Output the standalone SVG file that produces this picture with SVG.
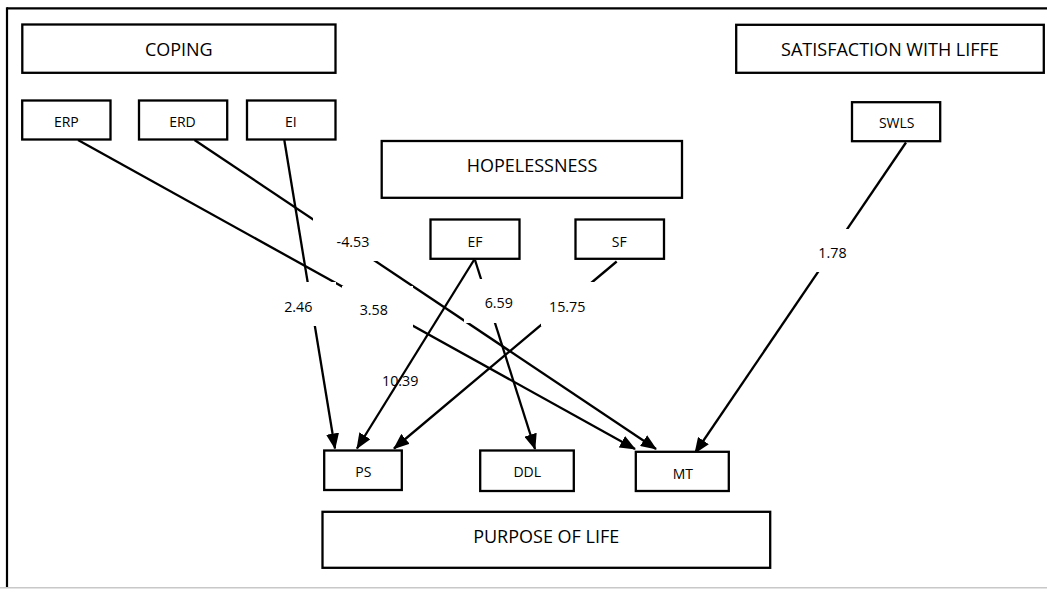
<svg xmlns="http://www.w3.org/2000/svg" width="1047" height="589" viewBox="0 0 1047 589">
<style>
.box{fill:#fff;stroke:#000;stroke-width:2.3}
.big{font-family:"Open Sans","Liberation Sans",sans-serif;font-size:18px;fill:#000;text-anchor:middle}
.sm{font-family:"Open Sans","Liberation Sans",sans-serif;font-size:14px;fill:#000;text-anchor:middle}
.num{font-family:"Open Sans","Liberation Sans",sans-serif;font-size:14.3px;fill:#000;text-anchor:middle}
.edge{stroke:#000;stroke-width:2.3;fill:none;marker-end:url(#arrow)}
.lbg{fill:#fff;stroke:none}
</style>
<defs>
<marker id="arrow" markerUnits="userSpaceOnUse" markerWidth="16" markerHeight="13" refX="15" refY="6.5" orient="auto">
<path d="M0,0 L16,6.5 L0,13 z" fill="#000"/>
</marker>
</defs>
<rect x="0" y="0" width="1047" height="589" fill="#fff"/>
<g id="frame">
<line x1="7" y1="8.3" x2="1047" y2="8.3" stroke="#000" stroke-width="2.2"/>
<line x1="7" y1="7.3" x2="7" y2="588" stroke="#000" stroke-width="2.2"/>
<line x1="0" y1="587.8" x2="1047" y2="587.8" stroke="#c8c8c8" stroke-width="1.5"/>
</g>
<g id="connectors">
<line class="edge" x1="78" y1="140" x2="635" y2="449"/>
<line class="edge" x1="194.5" y1="140" x2="656" y2="449"/>
<line class="edge" x1="284.3" y1="140" x2="335" y2="448.5"/>
<line class="edge" x1="474.3" y1="259.5" x2="357" y2="448.5"/>
<line class="edge" x1="475" y1="260" x2="535" y2="449"/>
<line class="edge" x1="616.7" y1="261.5" x2="394" y2="448.5"/>
<line class="edge" x1="906" y1="142.5" x2="695" y2="453"/>
</g>
<g id="edge-labels">
<rect class="lbg" x="313" y="205" width="80" height="56"/>
<text class="num" x="353" y="246.5">-4.53</text>
<rect class="lbg" x="280" y="282" width="56" height="44"/>
<text class="num" x="298.3" y="311.5">2.46</text>
<rect class="lbg" x="342" y="286" width="71" height="42"/>
<text class="num" x="373.8" y="315">3.58</text>
<rect class="lbg" x="464" y="279" width="70" height="44"/>
<text class="num" x="498.8" y="308">6.59</text>
<rect class="lbg" x="541" y="282" width="60" height="44"/>
<text class="num" x="567.2" y="311.5">15.75</text>
<rect class="lbg" x="805" y="229" width="55" height="43"/>
<text class="num" x="832.5" y="257.5">1.78</text>
<text class="num" x="400.2" y="385.5">10.39</text>
</g>
<g id="coping">
<rect class="box" x="22.3" y="24.5" width="313.2" height="48.3"/>
<text class="big" x="178.8" y="56">COPING</text>
</g>
<g id="erp">
<rect class="box" x="22.2" y="100.5" width="88.3" height="39"/>
<text class="sm" x="66.3" y="127">ERP</text>
</g>
<g id="erd">
<rect class="box" x="139" y="100.5" width="88.2" height="39"/>
<text class="sm" x="182.5" y="127">ERD</text>
</g>
<g id="ei">
<rect class="box" x="247" y="100.5" width="88.5" height="39"/>
<text class="sm" x="290.8" y="127">EI</text>
</g>
<g id="hopelessness">
<rect class="box" x="381.7" y="141" width="300.3" height="56.8"/>
<text class="big" x="532" y="172">HOPELESSNESS</text>
</g>
<g id="ef">
<rect class="box" x="430.5" y="219.5" width="89" height="39.3"/>
<text class="sm" x="475" y="246.5">EF</text>
</g>
<g id="sf">
<rect class="box" x="575.5" y="219.5" width="88.5" height="39.3"/>
<text class="sm" x="619.3" y="246.5">SF</text>
</g>
<g id="satisfaction">
<rect class="box" x="736.2" y="24.8" width="307.6" height="48"/>
<text class="big" x="890" y="56">SATISFACTION WITH LIFFE</text>
</g>
<g id="swls">
<rect class="box" x="852" y="102.2" width="88.2" height="39"/>
<text class="sm" x="896.7" y="128">SWLS</text>
</g>
<g id="ps">
<rect class="box" x="324.2" y="450.5" width="77.6" height="39.5"/>
<text class="sm" x="363.3" y="477">PS</text>
</g>
<g id="ddl">
<rect class="box" x="480.2" y="450.5" width="93.6" height="40.5"/>
<text class="sm" x="527.2" y="477">DDL</text>
</g>
<g id="mt">
<rect class="box" x="635.8" y="451.8" width="93" height="39.2"/>
<text class="sm" x="682.8" y="479">MT</text>
</g>
<g id="purpose">
<rect class="box" x="322.5" y="511.8" width="447.7" height="56"/>
<text class="big" x="546.2" y="543">PURPOSE OF LIFE</text>
</g>
</svg>
